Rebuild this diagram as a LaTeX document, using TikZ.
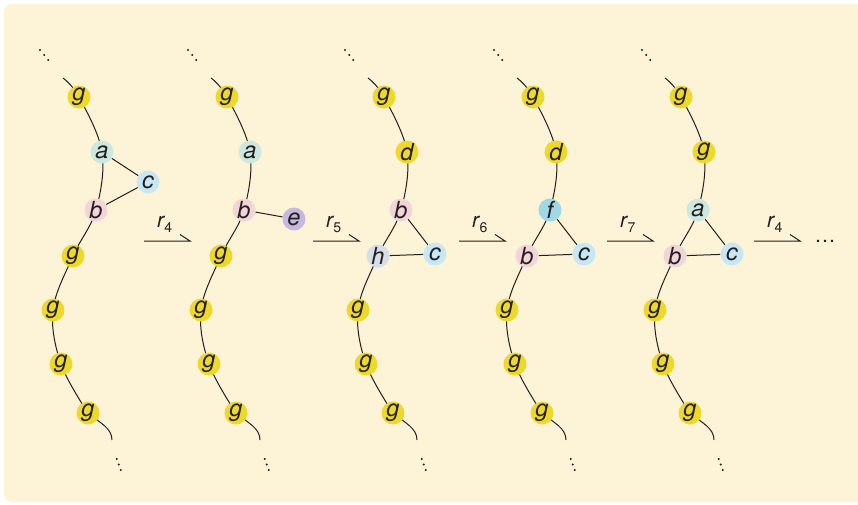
\documentclass[tikz,border=0pt]{standalone}
\usepackage{fontspec}
\newfontfamily\hv{TeX Gyre Heros}
\pgfdeclarelayer{bg}
\pgfdeclarelayer{edges}
\pgfsetlayers{bg,edges,main}
\definecolor{bgc}{RGB}{253,243,215}
\definecolor{cg}{RGB}{238,217,42}
\definecolor{ca}{RGB}{205,232,222}
\definecolor{cb}{RGB}{242,213,216}
\definecolor{cc}{RGB}{199,231,245}
\definecolor{ce}{RGB}{198,184,223}
\definecolor{ch}{RGB}{216,222,231}
\definecolor{cf}{RGB}{158,217,229}
\definecolor{ink}{RGB}{35,31,32}
\tikzset{
  nd/.style={circle, minimum size=23pt, inner sep=0pt, text=ink,
    font=\hv\itshape\fontsize{23.5}{23.5}\selectfont},
  ln/.style={draw=ink, line width=1pt},
  dotm/.style={fill=ink, draw=none},
  rlab/.style={anchor=base west, inner sep=0pt, text=ink, font=\hv\fontsize{21}{21}\selectfont},
}
\newcommand\rl[1]{{\itshape r}\kern0.3pt\raisebox{-5pt}{\fontsize{14}{14}\selectfont #1}}
% chain line + dots for panel with prefix #1
\newcommand\chainline[1]{%
  \begin{pgfonlayer}{edges}
  \draw[ln] plot[smooth,tension=0.6] coordinates {(#1start) (#1n1.center) (#1n2.center) (#1n3.center) (#1n4.center) (#1n5.center) (#1n6.center) (#1n7.center)};
  \draw[ln] (#1n7.center) .. controls +(12,10) and +(0,-12) .. (#1end);
  \end{pgfonlayer}
  \fill[dotm] (40,50) circle (1.1) (44.3,55) circle (1.1) (48.3,60) circle (1.1);
  \fill[dotm] (116.7,459) circle (1.1) (118.7,464.5) circle (1.1) (120.7,470) circle (1.1);
}
\newcommand\chainpos[1]{%
  \coordinate (#1start) at (63,78);
  \coordinate (#1end) at (112,440);
}
\begin{document}
\begin{tikzpicture}[x=1pt,y=-1pt]
\useasboundingbox (0,0) rectangle (858,504);
\begin{pgfonlayer}{bg}
\fill[bgc, rounded corners=8pt] (4,4) rectangle (880,502);
\end{pgfonlayer}

% ---------- panel A ----------
\begin{scope}[xshift=0pt]
\chainpos{A}
\node[nd,fill=cg] (An1) at (79,97) {g};
\node[nd,fill=ca] (An2) at (102,152) {a};
\node[nd,fill=cb] (An3) at (96,210) {b};
\node[nd,fill=cg] (An4) at (73,256) {g};
\node[nd,fill=cg] (An5) at (53,310) {g};
\node[nd,fill=cg] (An6) at (61,364) {g};
\node[nd,fill=cg] (An7) at (88,413) {g};
\node[nd,fill=cc] (AC) at (148,182) {c};
\chainline{A}
\begin{pgfonlayer}{edges}
\draw[ln] (An2) -- (AC);
\draw[ln] (An3) -- (AC);
\end{pgfonlayer}
\end{scope}

% ---------- panel B ----------
\begin{scope}[xshift=148pt]
\chainpos{B}
\node[nd,fill=cg] (Bn1) at (79,97) {g};
\node[nd,fill=ca] (Bn2) at (102,152) {a};
\node[nd,fill=cb] (Bn3) at (96,210) {b};
\node[nd,fill=cg] (Bn4) at (73,256) {g};
\node[nd,fill=cg] (Bn5) at (53,310) {g};
\node[nd,fill=cg] (Bn6) at (61,364) {g};
\node[nd,fill=cg] (Bn7) at (88,413) {g};
\node[nd,fill=ce] (BE) at (146,219) {e};
\chainline{B}
\begin{pgfonlayer}{edges}
\draw[ln] (Bn3) -- (BE);
\end{pgfonlayer}
\end{scope}

% ---------- panel C ----------
\begin{scope}[xshift=305pt]
\chainpos{C}
\node[nd,fill=cg] (Cn1) at (79,97) {g};
\node[nd,fill=cg] (Cn2) at (102,152) {d};
\node[nd,fill=cb] (Cn3) at (96,210) {b};
\node[nd,fill=ch] (Cn4) at (73,256) {h};
\node[nd,fill=cg] (Cn5) at (53,310) {g};
\node[nd,fill=cg] (Cn6) at (61,364) {g};
\node[nd,fill=cg] (Cn7) at (88,413) {g};
\node[nd,fill=cc] (CC) at (130,254) {c};
\chainline{C}
\begin{pgfonlayer}{edges}
\draw[ln] (Cn3) -- (CC);
\draw[ln] (Cn4) -- (CC);
\end{pgfonlayer}
\end{scope}

% ---------- panel D ----------
\begin{scope}[xshift=454pt]
\chainpos{D}
\node[nd,fill=cg] (Dn1) at (79,97) {g};
\node[nd,fill=cg] (Dn2) at (102,152) {d};
\node[nd,fill=cf] (Dn3) at (96,210) {f};
\node[nd,fill=cb] (Dn4) at (73,256) {b};
\node[nd,fill=cg] (Dn5) at (53,310) {g};
\node[nd,fill=cg] (Dn6) at (61,364) {g};
\node[nd,fill=cg] (Dn7) at (88,413) {g};
\node[nd,fill=cc] (DC) at (130,254) {c};
\chainline{D}
\begin{pgfonlayer}{edges}
\draw[ln] (Dn3) -- (DC);
\draw[ln] (Dn4) -- (DC);
\end{pgfonlayer}
\end{scope}

% ---------- panel E ----------
\begin{scope}[xshift=602pt]
\chainpos{E}
\node[nd,fill=cg] (En1) at (79,97) {g};
\node[nd,fill=cg] (En2) at (102,152) {g};
\node[nd,fill=ca] (En3) at (96,210) {a};
\node[nd,fill=cb] (En4) at (73,256) {b};
\node[nd,fill=cg] (En5) at (53,310) {g};
\node[nd,fill=cg] (En6) at (61,364) {g};
\node[nd,fill=cg] (En7) at (88,413) {g};
\node[nd,fill=cc] (EC) at (130,254) {c};
\chainline{E}
\begin{pgfonlayer}{edges}
\draw[ln] (En3) -- (EC);
\draw[ln] (En4) -- (EC);
\end{pgfonlayer}
\end{scope}

% ---------- reaction arrows ----------
\foreach \x/\k [count=\i] in {144/4,313/5,459/6,607/7,754/4}{
  \coordinate (ar\i s) at (\x,241);
  \coordinate (ar\i e) at (\x+46,241);
  \coordinate (ar\i b) at (\x+36,234.5);
  \draw[ln] (ar\i s) -- (ar\i e) -- (ar\i b);
  \node[rlab] (lab\i) at (\x+13,227) {\rl{\k}};
}
\node[anchor=base, inner sep=0pt, text=ink, font=\hv\fontsize{21}{21}\selectfont] (ell) at (825,242.5) {…};
\end{tikzpicture}
\end{document}
